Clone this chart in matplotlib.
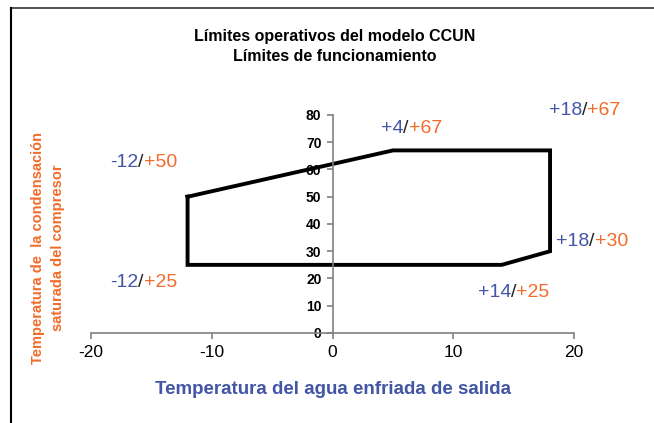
"""
Operating limits envelope for the CCUN model.
"""

import matplotlib
matplotlib.use("Agg")
from matplotlib import pyplot as plt
from matplotlib.lines import Line2D

plt.rcParams['font.family'] = ['Liberation Sans', 'DejaVu Sans']
plt.rcParams['axes.unicode_minus'] = False

BLUE = '#4356a6'
ORANGE = '#f26b2a'
GRAY = '#808080'

# envelope (leaving water temp, condensing temp)
env_x = [-12, 5, 18, 18, 14, -12, -12]
env_y = [50, 67, 67, 30, 25, 25, 50]

# corner labels: (water, condensing) text and where they sit
lbl_water = ['-12', '-12', '+4', '+18', '+18', '+14']
lbl_cond = ['+50', '+25', '+67', '+67', '+30', '+25']
lbl_x = [-18.4, -18.4, 4.0, 17.9, 18.5, 12.0]
lbl_y = [62.4, 18.7, 75.2, 81.8, 33.4, 14.7]

x_ticks = [-20, -10, 0, 10, 20]
y_ticks = [0, 10, 20, 30, 40, 50, 60, 70, 80]


def main():
    fig = plt.figure(figsize=(6.54, 4.23), dpi=100)
    ax = fig.add_axes([0.139, 0.2128, 0.739, 0.5154])

    ax.plot(env_x, env_y, color='black', lw=2.8, solid_joinstyle='miter')

    ax.set_xlim(-20, 20)
    ax.set_ylim(0, 80)
    ax.set_xticks(x_ticks)
    ax.set_yticks(y_ticks)

    # spines through the origin, no box
    ax.spines['left'].set_position(('data', 0))
    ax.spines['top'].set_color('none')
    ax.spines['right'].set_color('none')
    for s in ('left', 'bottom'):
        ax.spines[s].set_color(GRAY)
        ax.spines[s].set_linewidth(1.2)
    ax.tick_params(axis='both', direction='out', length=4, width=1.2, color=GRAY)
    ax.tick_params(axis='x', labelsize=12.5, pad=5)
    ax.tick_params(axis='y', labelsize=10, pad=4)
    for t in ax.get_yticklabels():
        t.set_fontweight('bold')

    # multicolour corner labels: blue / dark / orange
    fig.canvas.draw()
    r = fig.canvas.get_renderer()
    for w, c, x, y in zip(lbl_water, lbl_cond, lbl_x, lbl_y):
        px, py = ax.transData.transform((x, y))
        for part, col in ((w, BLUE), ('/', '#222222'), (c, ORANGE)):
            t = fig.text(px / fig.dpi / fig.get_figwidth(), py / fig.dpi / fig.get_figheight(),
                         part, color=col, fontsize=14, va='center', ha='left')
            px = t.get_window_extent(r).x1

    fig.text(0.512, 0.89, 'Límites operativos del modelo CCUN\nLímites de funcionamiento',
             ha='center', va='center', fontsize=11.5, fontweight='bold', linespacing=1.35)
    fig.text(0.509, 0.080, 'Temperatura del agua enfriada de salida',
             ha='center', va='center', fontsize=13.5, fontweight='bold', color=BLUE)
    fig.text(0.074, 0.414, 'Temperatura de  la condensación\nsaturada del compresor',
             ha='center', va='center', rotation=90, fontsize=10.5, fontweight='bold',
             color=ORANGE, linespacing=1.55)

    # frame lines on the top and left edges only
    fig.add_artist(Line2D([0.017, 1.0], [0.982, 0.982], color='#333333', lw=1.2))
    fig.add_artist(Line2D([0.017, 0.017], [0.0, 0.982], color='black', lw=1.5))

    fig.savefig('out.png', dpi=100)


if __name__ == "__main__":
    main()
